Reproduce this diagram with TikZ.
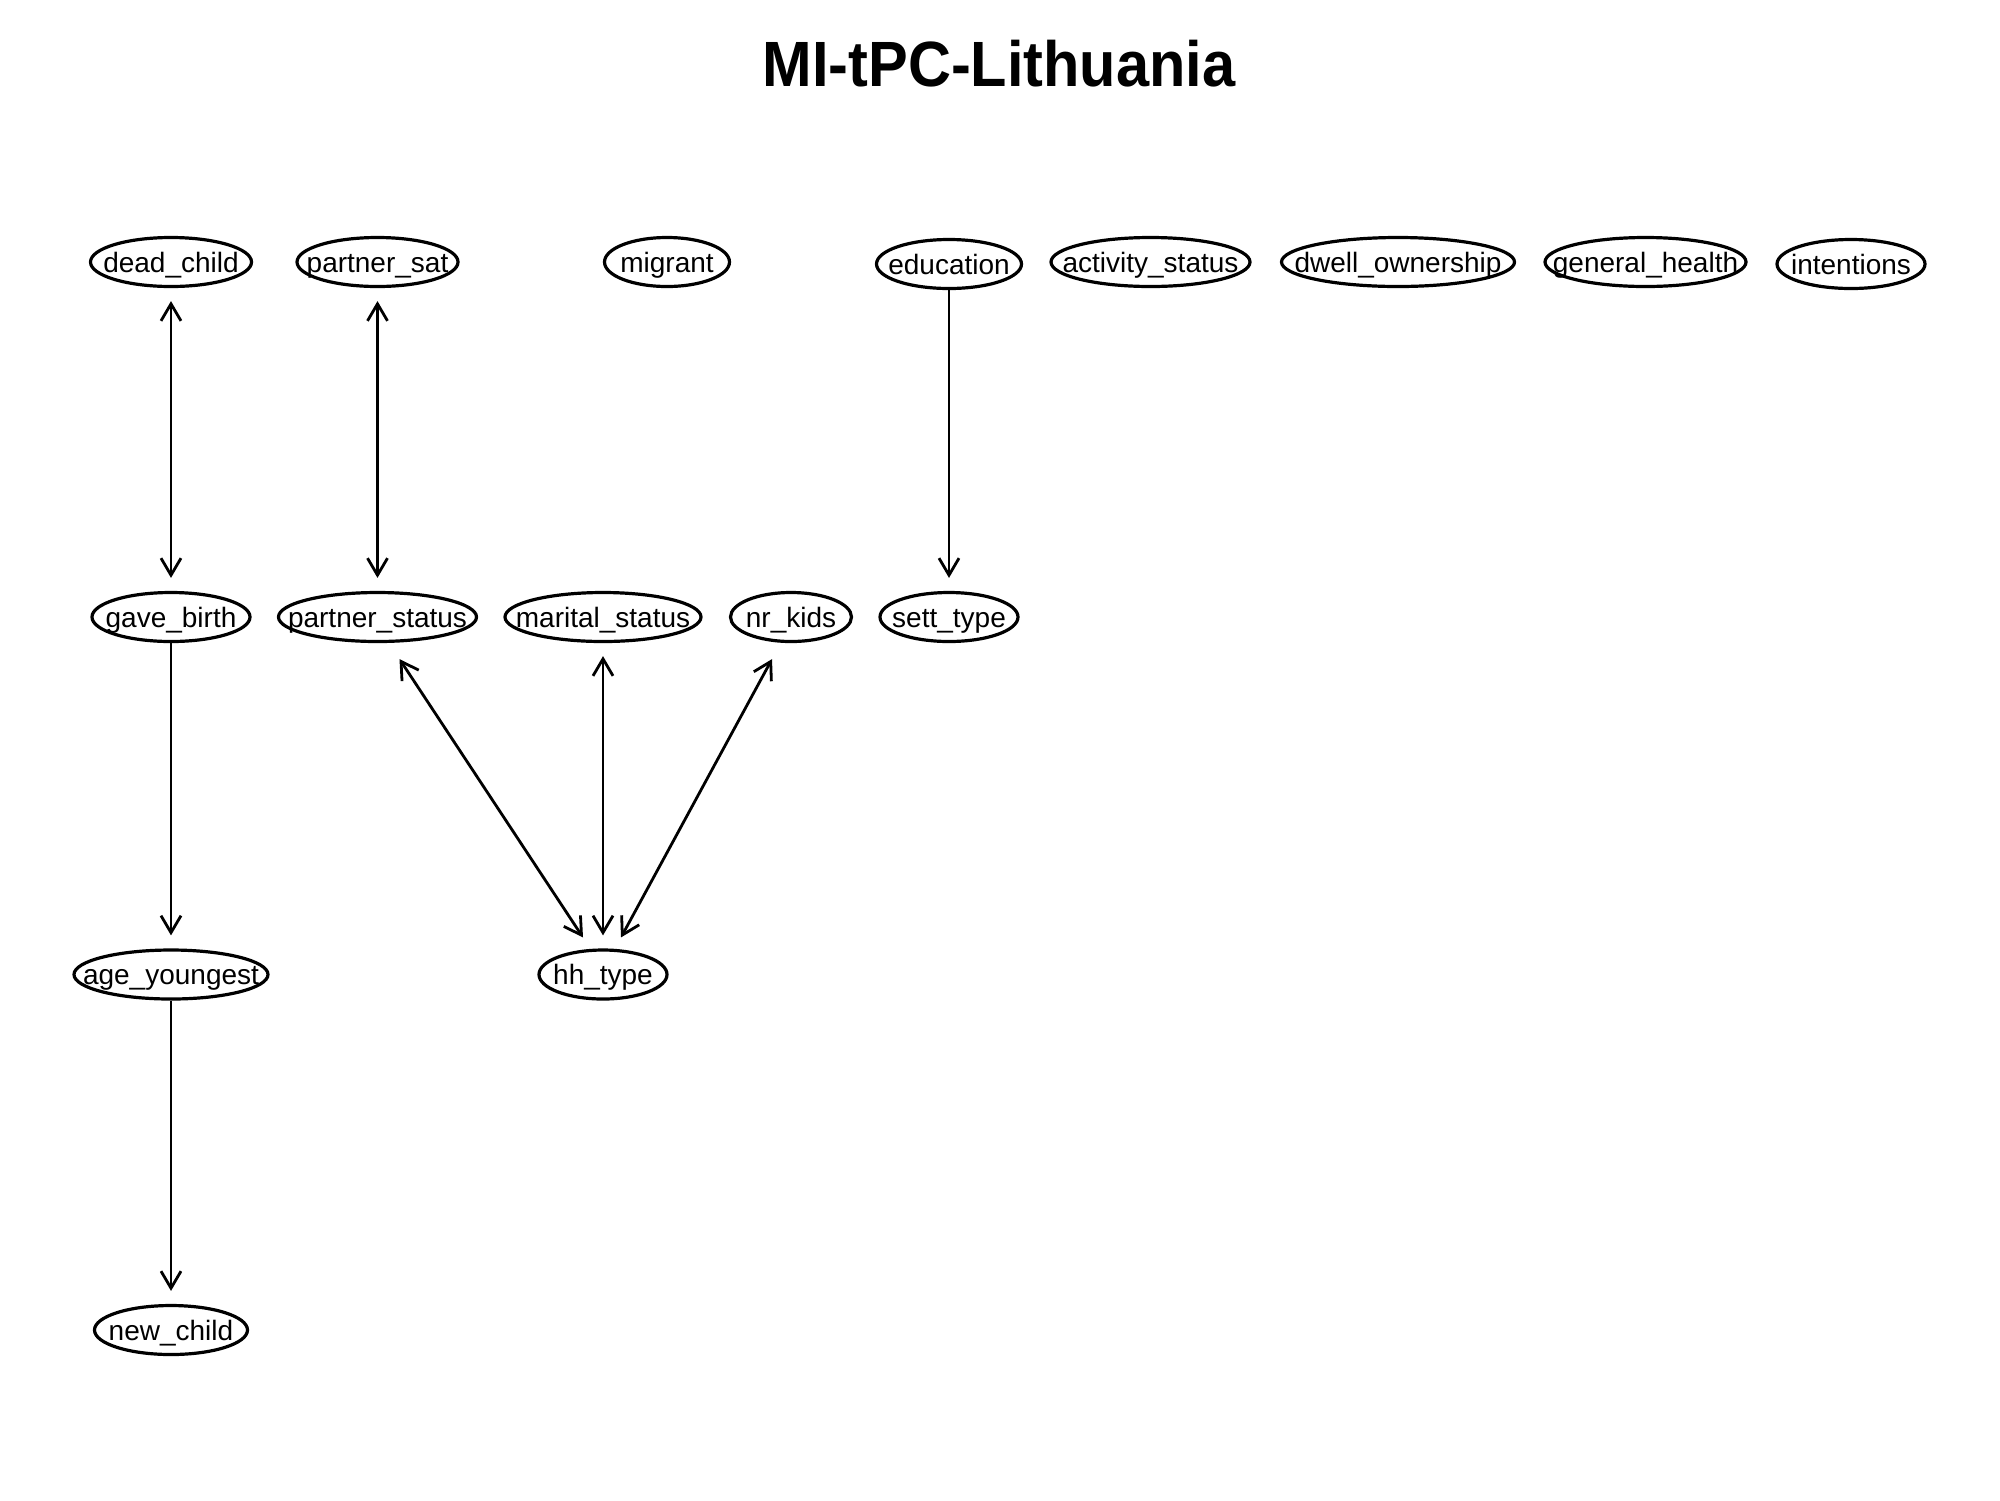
\documentclass[tikz,border=0pt]{standalone}
\usepackage{fontspec}
\setmainfont{Liberation Sans}
\usetikzlibrary{shapes.geometric,arrows.meta}
\tikzset{
  nd/.style={ellipse, draw, line width=1.6pt, inner sep=0pt, minimum height=24.5pt,
    font=\fontsize{14}{14}\selectfont},
  barb/.tip={Straight Barb[length=8.5pt,width=10pt]},
  uni/.style={line width=1.4pt, -barb, shorten >=6.5pt, shorten <=0pt},
  bi/.style={line width=1.4pt, barb-barb, shorten >=6.5pt, shorten <=6.5pt},
}
\newcommand{\lbl}[1]{\makebox[0pt]{\raisebox{0pt}[10pt][0pt]{#1}}}
\begin{document}
\begin{tikzpicture}[x=0.5pt,y=-0.5pt]
\useasboundingbox (0,0) rectangle (2000,1500);
\node[anchor=base, font=\bfseries\fontsize{32}{32}\selectfont] (title) at (999,86) {\scalebox{0.93}[1]{MI-tPC-Lithuania}};
% row 1
\node[nd, minimum width=80.5pt] (dead_child) at (171,262) {\lbl{dead\_child}};
\node[nd, minimum width=80.5pt] (partner_sat) at (377.5,262) {\lbl{partner\_sat}};
\node[nd, minimum width=62.5pt] (migrant) at (667,262) {\lbl{migrant}};
\node[nd, minimum width=72.5pt] (education) at (949,264) {\lbl{education}};
\node[nd, minimum width=99.5pt] (activity_status) at (1150.5,262) {\lbl{activity\_status}};
\node[nd, minimum width=116.5pt] (dwell_ownership) at (1398,262) {\lbl{dwell\_ownership}};
\node[nd, minimum width=100.5pt] (general_health) at (1645.5,262) {\lbl{general\_health}};
\node[nd, minimum width=74pt] (intentions) at (1851,264) {\lbl{intentions}};
% row 2
\node[nd, minimum width=79pt] (gave_birth) at (171,617) {\lbl{gave\_birth}};
\node[nd, minimum width=99pt] (partner_status) at (377.5,617) {\lbl{partner\_status}};
\node[nd, minimum width=98pt] (marital_status) at (603,617) {\lbl{marital\_status}};
\node[nd, minimum width=60.5pt] (nr_kids) at (791,617) {\lbl{nr\_kids}};
\node[nd, minimum width=69pt] (sett_type) at (949,617) {\lbl{sett\_type}};
% row 3
\node[nd, minimum width=97pt] (age_youngest) at (171,974.5) {\lbl{age\_youngest}};
\node[nd, minimum width=64pt] (hh_type) at (603,974.5) {\lbl{hh\_type}};
% row 4
\node[nd, minimum width=76.5pt] (new_child) at (171,1330) {\lbl{new\_child}};
% edges
\draw[bi] (dead_child) -- (gave_birth);
\draw[bi] (partner_sat) -- (partner_status);
\draw[uni] (education) -- (sett_type);
\draw[uni] (gave_birth) -- (age_youngest);
\draw[uni] (age_youngest) -- (new_child);
\draw[bi] (marital_status) -- (hh_type);
\draw[bi, shorten <=0pt, shorten >=0pt] ([xshift=11pt,yshift=-8pt]partner_status.south) -- ([xshift=-10pt,yshift=5.5pt]hh_type.north);
\draw[bi, shorten <=0pt, shorten >=0pt] ([xshift=-9.5pt,yshift=-8pt]nr_kids.south) -- ([xshift=9pt,yshift=5.5pt]hh_type.north);
\end{tikzpicture}
\end{document}
